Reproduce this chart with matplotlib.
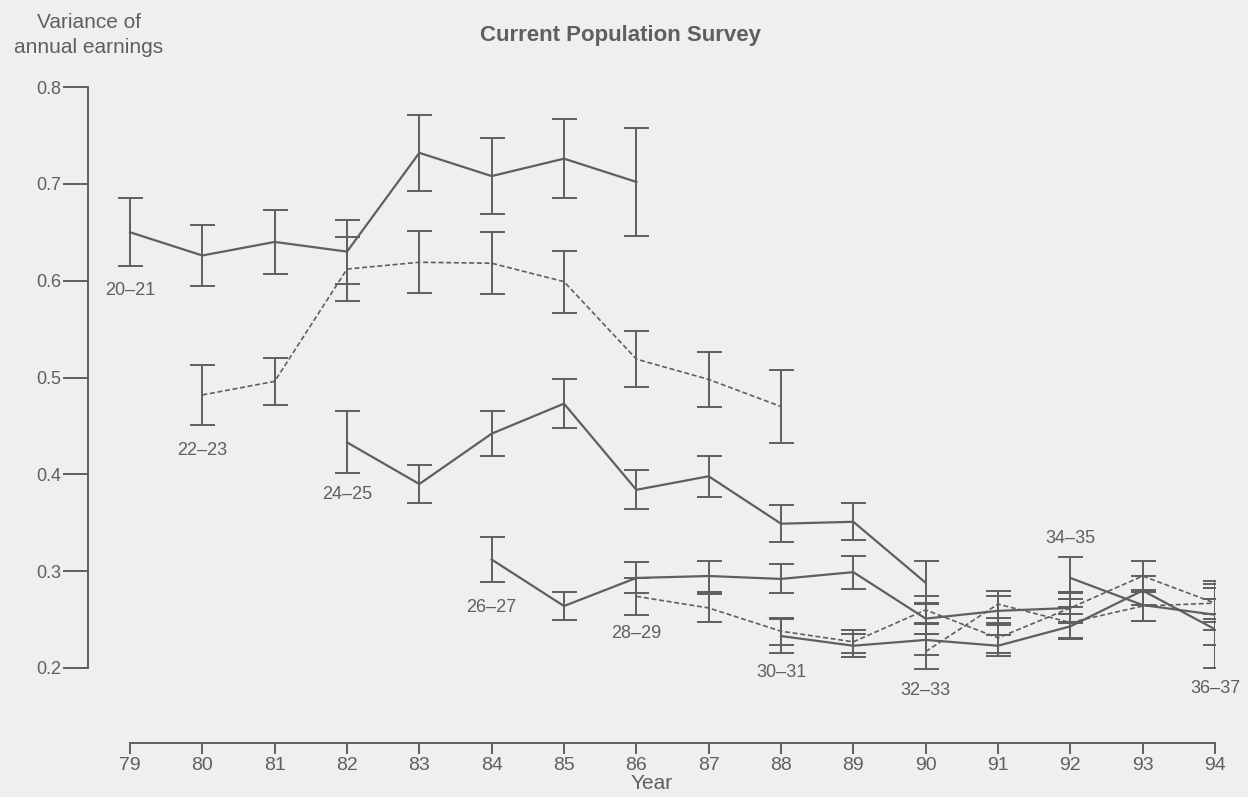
import matplotlib
matplotlib.use("Agg")
import matplotlib.pyplot as plt

plt.rcParams["font.family"] = ["Liberation Sans", "DejaVu Sans"]

INK = "#5f5f5f"
BG = "#efefef"

# cohort variance of annual earnings, by survey year (two-year age groups)
c20_years = [79, 80, 81, 82, 83, 84, 85, 86]
c20_var = [0.650, 0.626, 0.640, 0.630, 0.732, 0.708, 0.726, 0.702]
c20_err = [0.035, 0.031, 0.033, 0.033, 0.039, 0.039, 0.041, 0.056]

c22_years = [80, 81, 82, 83, 84, 85, 86, 87, 88]
c22_var = [0.482, 0.496, 0.612, 0.619, 0.618, 0.599, 0.519, 0.498, 0.470]
c22_err = [0.031, 0.024, 0.033, 0.032, 0.032, 0.032, 0.029, 0.028, 0.038]

c24_years = [82, 83, 84, 85, 86, 87, 88, 89, 90]
c24_var = [0.433, 0.390, 0.442, 0.473, 0.384, 0.398, 0.349, 0.351, 0.288]
c24_err = [0.032, 0.020, 0.023, 0.025, 0.020, 0.021, 0.019, 0.019, 0.022]

c26_years = [84, 85, 86, 87, 88, 89, 90, 91, 92]
c26_var = [0.312, 0.264, 0.293, 0.295, 0.292, 0.299, 0.251, 0.259, 0.262]
c26_err = [0.023, 0.014, 0.016, 0.016, 0.015, 0.017, 0.016, 0.015, 0.015]

c28_years = [86, 87, 88, 89, 90, 91, 92, 93, 94]
c28_var = [0.274, 0.262, 0.238, 0.227, 0.260, 0.231, 0.262, 0.295, 0.267]
c28_err = [0.019, 0.014, 0.014, 0.012, 0.014, 0.015, 0.016, 0.016, 0.016]

c30_years = [88, 89, 90, 91, 92, 93, 94]
c30_var = [0.233, 0.223, 0.229, 0.223, 0.243, 0.280, 0.240]
c30_err = [0.018, 0.012, 0.016, 0.011, 0.013, 0.015, 0.016]

c32_years = [90, 91, 92, 93, 94]
c32_var = [0.217, 0.266, 0.247, 0.264, 0.267]
c32_err = [0.018, 0.014, 0.016, 0.015, 0.020]

c34_years = [92, 93, 94]
c34_var = [0.293, 0.265, 0.255]
c34_err = [0.022, 0.016, 0.016]

c36_years = [94]
c36_var = [0.245]
c36_err = [0.045]

cohorts = [
    ("20\u201321", c20_years, c20_var, c20_err, "solid"),
    ("22\u201323", c22_years, c22_var, c22_err, "dashed"),
    ("24\u201325", c24_years, c24_var, c24_err, "solid"),
    ("26\u201327", c26_years, c26_var, c26_err, "solid"),
    ("28\u201329", c28_years, c28_var, c28_err, "dashed"),
    ("30\u201331", c30_years, c30_var, c30_err, "solid"),
    ("32\u201333", c32_years, c32_var, c32_err, "dashed"),
    ("34\u201335", c34_years, c34_var, c34_err, "solid"),
    ("36\u201337", c36_years, c36_var, c36_err, "solid"),
]

# where each age-group label sits (year, variance)
label_pos = {
    "20\u201321": (79.0, 0.590),
    "22\u201323": (80.0, 0.425),
    "24\u201325": (82.0, 0.379),
    "26\u201327": (84.0, 0.262),
    "28\u201329": (86.0, 0.236),
    "30\u201331": (88.0, 0.195),
    "32\u201333": (90.0, 0.177),
    "34\u201335": (92.0, 0.334),
    "36\u201337": (94.0, 0.179),
}

year_ticks = list(range(79, 95))
var_ticks = [0.2, 0.3, 0.4, 0.5, 0.6, 0.7, 0.8]

W, H = 1248, 797
fig = plt.figure(figsize=(W / 100, H / 100), dpi=100)
fig.patch.set_facecolor(BG)

# axes box in pixels: left spine at x=88, year 94 at x=1215, 0.8 at y=87, x axis at y=743
left, right, top, bottom = 88, 1215, 87, 743
ax = fig.add_axes([left / W, (H - bottom) / H, (right - left) / W, (bottom - top) / H])
ax.set_facecolor(BG)

px_per_year = (right - 130) / 15.0
ax.set_xlim(79 - (130 - left) / px_per_year, 94)
px_per_unit = (668 - 87) / 0.6
ax.set_ylim(0.8 - (bottom - top) / px_per_unit, 0.8)

for name, yrs, v, e, style in cohorts:
    if style == "dashed":
        ls, lw = (0, (3, 1.6)), 1.2
    else:
        ls, lw = "-", 1.6
    ax.plot(yrs, v, color=INK, lw=lw, linestyle=ls, zorder=3)
    ax.errorbar(yrs, v, yerr=e, fmt="none", ecolor=INK, elinewidth=1.4,
                capsize=9, capthick=1.4, zorder=2)
    lx, ly = label_pos[name]
    ax.text(lx, ly, name, ha="center", va="center", fontsize=13, color=INK)

for s in ["top", "right"]:
    ax.spines[s].set_visible(False)
ax.spines["left"].set_bounds(0.2, 0.8)
ax.spines["bottom"].set_bounds(79, 94)
for s in ["left", "bottom"]:
    ax.spines[s].set_color(INK)
    ax.spines[s].set_linewidth(1.4)

ax.set_yticks(var_ticks)
ax.set_yticklabels([f"{t:.1f}" for t in var_ticks])
ax.tick_params(axis="y", direction="out", length=18, width=1.4, color=INK,
               labelcolor=INK, labelsize=13, pad=1)
ax.set_xticks(year_ticks)
ax.set_xticklabels([str(y) for y in year_ticks])
ax.tick_params(axis="x", direction="out", length=8, width=1.4, color=INK,
               labelcolor=INK, labelsize=14, pad=2)
ax.set_xlabel("Year", fontsize=15, color=INK, labelpad=0)

fig.text(620 / W, 1 - 35 / H, "Current Population Survey", ha="center",
         va="center", fontsize=16, fontweight="bold", color=INK)
fig.text(89 / W, 1 - 35 / H, "Variance of\nannual earnings", ha="center",
         va="center", fontsize=15, color=INK, linespacing=1.35)

fig.savefig("out.png", dpi=100, facecolor=BG)
